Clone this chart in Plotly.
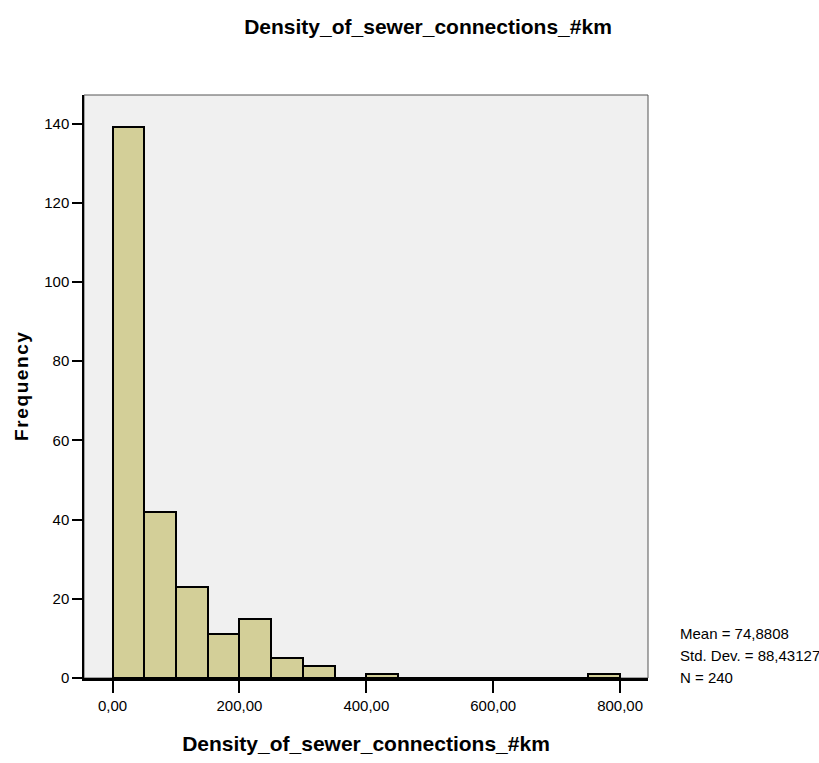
import plotly.graph_objects as go

bin_starts = [0, 50, 100, 150, 200, 250, 300, 350, 400, 450, 500, 550, 600, 650, 700, 750]
counts = [139, 42, 23, 11, 15, 5, 3, 0, 1, 0, 0, 0, 0, 0, 0, 1]
bin_width = 50
x_ticks = [0, 200, 400, 600, 800]
x_tick_labels = ["0,00", "200,00", "400,00", "600,00", "800,00"]
y_ticks = [0, 20, 40, 60, 80, 100, 120, 140]
stats_text = ["Mean = 74,8808", "Std. Dev. = 88,43127", "N = 240"]

font = "Liberation Sans, Arial, sans-serif"

centers = [s + bin_width / 2 for s in bin_starts]

fig = go.Figure()
fig.add_trace(go.Bar(
    x=centers, y=counts, width=[bin_width] * len(counts),
    marker=dict(color="#d3cf98", line=dict(color="#000000", width=2)),
    showlegend=False,
))

ytitle = "\u200a".join("Frequency")

fig.update_layout(
    width=819, height=763,
    margin=dict(l=84, r=171, t=95, b=85),
    paper_bgcolor="white",
    plot_bgcolor="#f0f0f0",
    bargap=0,
    title=dict(text="<b>Density_of_sewer_connections_#km</b>",
               x=428 / 819, xanchor="center", y=1 - 27 / 763, yanchor="middle",
               font=dict(family=font, size=21, color="black")),
    xaxis=dict(range=[-45, 844], tickvals=x_ticks, ticktext=x_tick_labels,
               ticks="outside", ticklen=12, tickwidth=2, tickcolor="black",
               showgrid=False, zeroline=False, showline=True, linecolor="black", linewidth=2.5,
               tickfont=dict(family=font, size=15, color="black"),
               title=dict(text="<b>Density_of_sewer_connections_#km</b>",
                          font=dict(family=font, size=21, color="black"), standoff=24)),
    yaxis=dict(range=[0, 147.2], tickvals=y_ticks,
               ticks="outside", ticklen=10, tickwidth=2, tickcolor="black",
               showgrid=False, zeroline=False, showline=True, linecolor="black", linewidth=1.5,
               tickfont=dict(family=font, size=15, color="black"),
               title=dict(text="<b>" + ytitle + "</b>",
                          font=dict(family=font, size=19, color="black"),
                          standoff=11)),
)

fig.add_shape(type="rect", xref="paper", yref="paper", x0=0, x1=1, y0=0, y1=1,
              line=dict(color="#555555", width=1), layer="below")

for i, t in enumerate(stats_text):
    fig.add_annotation(text=t, xref="paper", yref="paper",
                       x=(678 - 84) / (648 - 84), xanchor="left",
                       y=1 - (633 + 22 * i - 95) / (678 - 95), yanchor="middle",
                       showarrow=False,
                       font=dict(family=font, size=15, color="black"))

fig.write_html("out.html")
